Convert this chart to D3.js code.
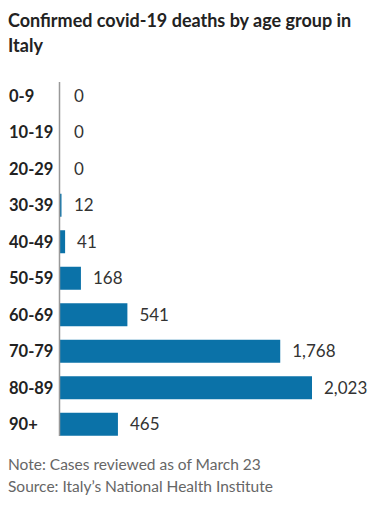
<!DOCTYPE html>
<html>
<head>
<meta charset="utf-8">
<script src="https://cdn.jsdelivr.net/npm/d3@7"></script>
<style>
  html, body { margin: 0; padding: 0; background: #fff; }
  svg { display: block; }
</style>
</head>
<body>
<svg id="chart" width="374" height="506"></svg>
<script>
const titleLines = ["Confirmed covid-19 deaths by age group in", "Italy"];
const ageGroups = ["0-9", "10-19", "20-29", "30-39", "40-49", "50-59", "60-69", "70-79", "80-89", "90+"];
const deaths = [0, 0, 0, 12, 41, 168, 541, 1768, 2023, 465];
const footnotes = ["Note: Cases reviewed as of March 23", "Source: Italy\u2019s National Health Institute"];

const svg = d3.select("#chart");
const font = "Lato, 'Open Sans', sans-serif";

svg.append("g").selectAll("text").data(titleLines).join("text")
  .attr("x", 8).attr("y", (d, i) => 27 + i * 25)
  .attr("font-family", font).attr("font-weight", 700)
  .attr("font-size", 18).attr("fill", "#222")
  .text(d => d);

const x = d3.scaleLinear().domain([0, 2023]).range([60, 312]);
const y = d3.scaleBand().domain(ageGroups).range([77.5, 442.5])
  .paddingInner(0.37).paddingOuter(0.185);

svg.append("g").selectAll("rect").data(ageGroups).join("rect")
  .attr("x", x(0))
  .attr("y", d => y(d))
  .attr("width", (d, i) => x(deaths[i]) - x(0))
  .attr("height", y.bandwidth())
  .attr("fill", "#0b72a8");

svg.append("line")
  .attr("x1", 59.5).attr("x2", 59.5)
  .attr("y1", 82).attr("y2", 436)
  .attr("stroke", "#999").attr("stroke-width", 1.5);

svg.append("g").selectAll("text").data(ageGroups).join("text")
  .attr("x", 9)
  .attr("y", d => y(d) + y.bandwidth() / 2)
  .attr("dy", "0.36em")
  .attr("font-family", font).attr("font-weight", 700)
  .attr("font-size", 16.5).attr("fill", "#222")
  .text(d => d);

svg.append("g").selectAll("text").data(ageGroups).join("text")
  .attr("x", (d, i) => Math.max(x(deaths[i]), 62) + 12)
  .attr("y", d => y(d) + y.bandwidth() / 2)
  .attr("dy", "0.36em")
  .attr("font-family", font).attr("font-weight", 400)
  .attr("font-size", 17).attr("fill", "#333")
  .text((d, i) => d3.format(",")(deaths[i]));

svg.append("g").selectAll("text").data(footnotes).join("text")
  .attr("x", 8).attr("y", (d, i) => 470 + i * 22)
  .attr("font-family", font).attr("font-weight", 400)
  .attr("font-size", 15.5).attr("fill", "#666")
  .text(d => d);
</script>
</body>
</html>
